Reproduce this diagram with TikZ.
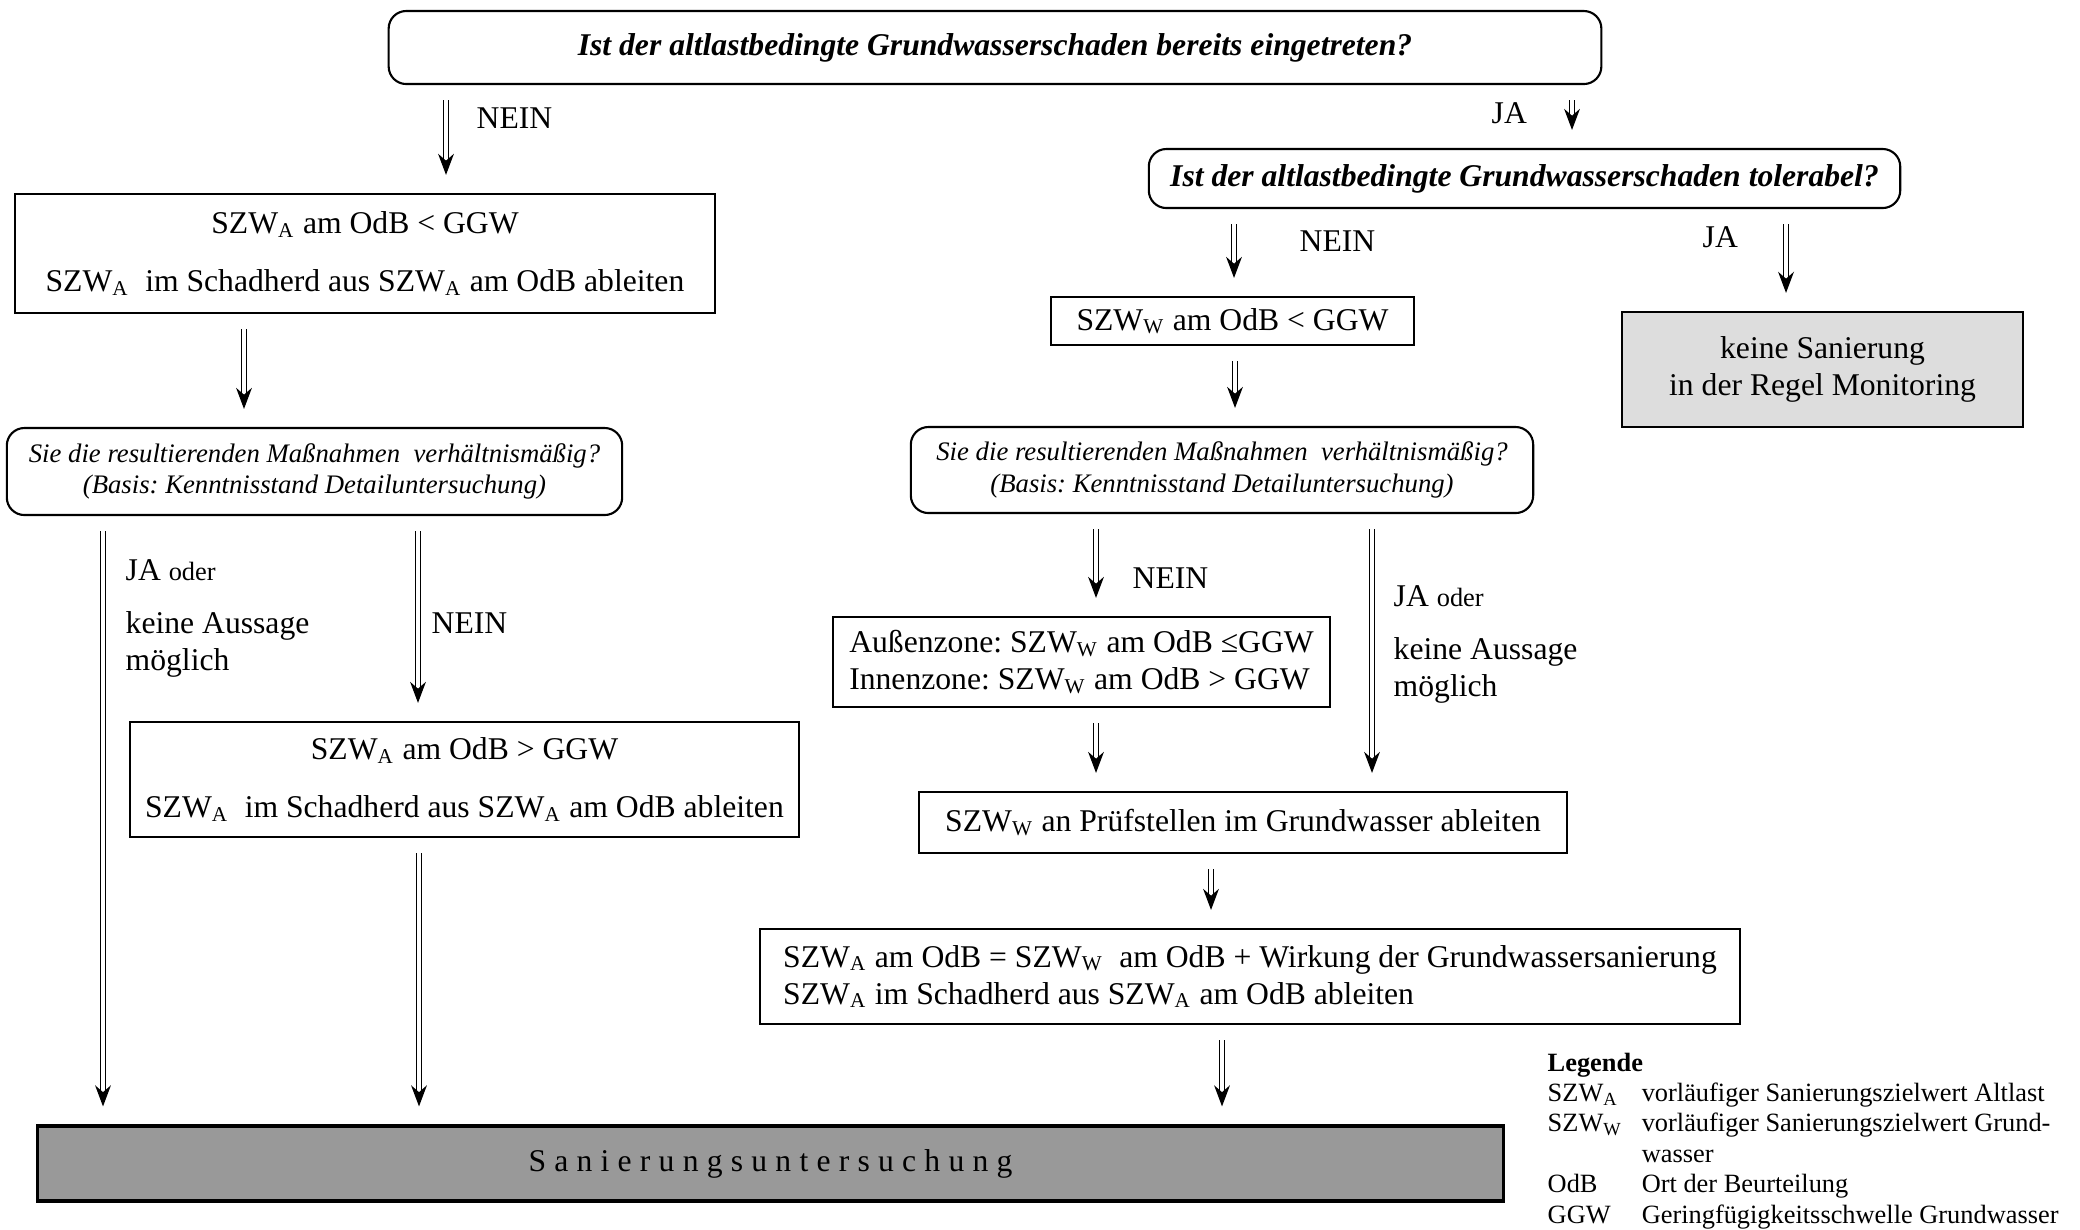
\documentclass[tikz,border=0pt]{standalone}
\usepackage{fontspec}
\setmainfont{Liberation Serif}
\usetikzlibrary{arrows.meta, positioning}
\definecolor{darkfill}{HTML}{999999}
\definecolor{lightfill}{HTML}{DDDDDD}

\begin{document}
\frenchspacing
\begin{tikzpicture}[
  x=0.01cm, y=-0.01cm,
  box/.style={rectangle, draw=black, line width=0.6pt, align=center,
              font=\fontsize{9}{10.5}\selectfont, inner sep=0pt},
  qbox/.style={box, rounded corners=5pt,
               font=\fontsize{9}{10.5}\selectfont\bfseries\itshape},
  sbox/.style={box, rounded corners=5pt, font=\fontsize{7.6}{9}\selectfont\itshape},
  lbox/.style={box, align=left},
  lbl/.style={anchor=west, align=left, inner sep=0pt,
              font=\fontsize{9}{10.5}\selectfont},
  dbl/.style={double, double distance=1pt, line width=0.35pt,
              -{Stealth[length=6pt, width=4.5pt]},
              shorten <=0.15cm, shorten >=0.18cm}
]
\useasboundingbox (0,0) rectangle (2080,1229);

% Questions
\node[qbox, minimum width=12.12cm, minimum height=0.73cm] (q1) at (995,47.5)
  {Ist der altlastbedingte Grundwasserschaden bereits eingetreten?};
\node[qbox, minimum width=7.51cm, minimum height=0.59cm] (q2) at (1524.5,178.5)
  {Ist der altlastbedingte Grundwasserschaden tolerabel?};

% Left column
\node[box, minimum width=7cm, minimum height=1.19cm] (a1) at (365,253.5)
  {SZW\textsubscript{A} am OdB < GGW\\[6pt]
   SZW\textsubscript{A}~ im Schadherd aus SZW\textsubscript{A} am OdB ableiten};
\node[sbox, minimum width=6.15cm, minimum height=0.87cm] (a2) at (314.5,471.5)
  {Sie die resultierenden Maßnahmen~ verhältnismäßig?\\
   (Basis: Kenntnisstand Detailuntersuchung)};
\node[box, minimum width=6.69cm, minimum height=1.15cm] (a3) at (464.5,779.5)
  {SZW\textsubscript{A} am OdB > GGW\\[6pt]
   SZW\textsubscript{A}~ im Schadherd aus SZW\textsubscript{A} am OdB ableiten};

% Right column
\node[box, minimum width=3.63cm, minimum height=0.48cm] (w1) at (1232.5,321)
  {SZW\textsubscript{W} am OdB < GGW};
\node[box, fill=lightfill, minimum width=4.01cm, minimum height=1.15cm] (ks) at (1822.5,369.5)
  {keine Sanierung\\in der Regel Monitoring};
\node[sbox, minimum width=6.22cm, minimum height=0.86cm] (w2) at (1222,470)
  {Sie die resultierenden Maßnahmen~ verhältnismäßig?\\
   (Basis: Kenntnisstand Detailuntersuchung)};
\node[lbox, minimum width=4.97cm, minimum height=0.9cm] (w3) at (1081.5,662)
  {Außenzone: SZW\textsubscript{W} am OdB ≤GGW\\
   Innenzone: SZW\textsubscript{W} am OdB > GGW};
\node[box, minimum width=6.48cm, minimum height=0.61cm] (w4) at (1243,822.5)
  {SZW\textsubscript{W} an Prüfstellen im Grundwasser ableiten};
\node[lbox, minimum width=9.8cm, minimum height=0.95cm] (w5) at (1250,976.5)
  {SZW\textsubscript{A} am OdB = SZW\textsubscript{W}~ am OdB + Wirkung der Grundwassersanierung\\
   SZW\textsubscript{A} im Schadherd aus SZW\textsubscript{A} am OdB ableiten};

% Result
\node[box, fill=darkfill, line width=0.9pt, minimum width=14.65cm, minimum height=0.75cm] (su) at (770.5,1163.5)
  {\addfontfeature{LetterSpace=26}Sanierungsuntersuchung};

% Arrows
\draw[dbl] (q1.south -| 446,0) -- (a1.north -| 446,0);
\draw[dbl] (q1.south -| 1572,0) -- (q2.north -| 1572,0);
\draw[dbl] (a1.south -| 244,0) -- (a2.north -| 244,0);
\draw[dbl] (a2.south -| 103,0) -- (su.north -| 103,0);
\draw[dbl] (a2.south -| 418,0) -- (a3.north -| 418,0);
\draw[dbl] (a3.south -| 419,0) -- (su.north -| 419,0);
\draw[dbl] (q2.south -| 1234,0) -- (w1.north -| 1234,0);
\draw[dbl] (q2.south -| 1786,0) -- (ks.north -| 1786,0);
\draw[dbl] (w1.south -| 1235,0) -- (w2.north -| 1235,0);
\draw[dbl] (w2.south -| 1096,0) -- (w3.north -| 1096,0);
\draw[dbl] (w2.south -| 1372,0) -- (w4.north -| 1372,0);
\draw[dbl] (w3.south -| 1096,0) -- (w4.north -| 1096,0);
\draw[dbl] (w4.south -| 1211,0) -- (w5.north -| 1211,0);
\draw[dbl] (w5.south -| 1222,0) -- (su.north -| 1222,0);

% Labels
\node[lbl] (n1) at (476,118) {NEIN};
\node[lbl] (j1) at (1491,113) {JA};
\node[lbl] (n2) at (1299,241) {NEIN};
\node[lbl] (j2) at (1702,237) {JA};
\node[lbl] (n3) at (431,623) {NEIN};
\node[lbl] (n4) at (1132,578) {NEIN};
\node[lbl, anchor=north west] (j3) at (125,559)
  {JA {\fontsize{7.5}{9}\selectfont oder}\\[4.5pt] keine Aussage\\ möglich};
\node[lbl, anchor=north west] (j4) at (1393,585)
  {JA {\fontsize{7.5}{9}\selectfont oder}\\[4.5pt] keine Aussage\\ möglich};

% Legend
\node[anchor=north west, inner sep=0pt, font=\fontsize{7.5}{8.65}\selectfont] (leg) at (1547,1049)
  {\begin{tabular}{@{}p{0.94cm}@{}l@{}}
   \multicolumn{2}{@{}l}{\textbf{Legende}}\\
   SZW\textsubscript{A} & vorläufiger Sanierungszielwert Altlast\\
   SZW\textsubscript{W} & vorläufiger Sanierungszielwert Grund-\\
                        & wasser\\
   OdB & Ort der Beurteilung\\
   GGW & Geringfügigkeitsschwelle Grundwasser
   \end{tabular}};
\end{tikzpicture}
\end{document}
